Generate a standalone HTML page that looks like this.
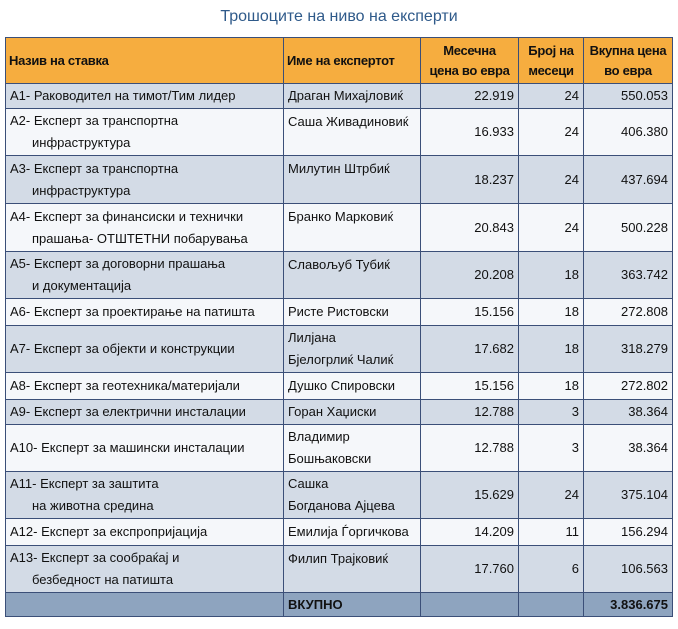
<!DOCTYPE html>
<html><head><meta charset="utf-8"><style>
body{margin:0;background:#fff;width:678px;height:629px;overflow:hidden;font-family:"Liberation Sans Narrow","Liberation Sans",sans-serif;}
.t{position:absolute;top:8px;left:0;width:678px;text-align:center;color:#2f5a8a;font-size:16px;}
table{position:absolute;left:5px;top:37px;width:667px;border-collapse:collapse;table-layout:fixed;font-size:13px;color:#111;line-height:22px;}
td{border:1.5px solid #3b4f78;padding:0 4px;vertical-align:middle;white-space:nowrap;}
th{border:1.5px solid #3b4f78;background:#f6ad3f;font-weight:bold;font-size:13px;padding:0 3px;line-height:20px;white-space:nowrap;letter-spacing:-0.3px;}
.o td{background:#d3dbe6}.e td{background:#f5f7fa}
.n{text-align:right}
.d td:first-child div:nth-child(2){padding-left:22px}
.tp{vertical-align:top;padding-top:2px}
.tot td{background:#8ea4bf;font-weight:bold}
</style></head><body>
<div class="t">Трошоците на ниво на експерти</div>
<table>
<colgroup><col style="width:278px"><col style="width:137px"><col style="width:98px"><col style="width:65px"><col style="width:89px"></colgroup>
<tr style="height:46px"><th style="text-align:left">Назив на ставка</th><th style="text-align:left">Име на експертот</th><th>Месечна<br>цена во евра</th><th>Број на<br>месеци</th><th>Вкупна цена<br>во евра</th></tr>
<tr class="o" style="height:25px"><td>A1- Раководител на тимот/Тим лидер</td><td>Драган Михајловиќ</td><td class="n">22.919</td><td class="n">24</td><td class="n">550.053</td></tr>
<tr class="e d" style="height:47px"><td><div>A2- Експерт за транспортна</div><div>инфраструктура</div></td><td class="tp">Саша Живадиновиќ</td><td class="n">16.933</td><td class="n">24</td><td class="n">406.380</td></tr>
<tr class="o d" style="height:48px"><td><div>A3- Експерт за транспортна</div><div>инфраструктура</div></td><td class="tp">Милутин Штрбиќ</td><td class="n">18.237</td><td class="n">24</td><td class="n">437.694</td></tr>
<tr class="e d" style="height:48px"><td><div>A4- Експерт за финансиски и технички</div><div>прашања- ОТШТЕТНИ побарувања</div></td><td class="tp">Бранко Марковиќ</td><td class="n">20.843</td><td class="n">24</td><td class="n">500.228</td></tr>
<tr class="o d" style="height:47px"><td><div>A5- Експерт за договорни прашања</div><div>и документација</div></td><td class="tp">Славољуб Тубиќ</td><td class="n">20.208</td><td class="n">18</td><td class="n">363.742</td></tr>
<tr class="e" style="height:27px"><td>A6- Експерт за проектирање на патишта</td><td>Ристе Ристовски</td><td class="n">15.156</td><td class="n">18</td><td class="n">272.808</td></tr>
<tr class="o" style="height:47px"><td>A7- Експерт за објекти и конструкции</td><td>Лилјана<br>Бјелогрлиќ Чалиќ</td><td class="n">17.682</td><td class="n">18</td><td class="n">318.279</td></tr>
<tr class="e" style="height:27px"><td>A8- Експерт за геотехника/материјали</td><td>Душко Спировски</td><td class="n">15.156</td><td class="n">18</td><td class="n">272.802</td></tr>
<tr class="o" style="height:25px"><td>A9- Експерт за електрични инсталации</td><td>Горан Хаџиски</td><td class="n">12.788</td><td class="n">3</td><td class="n">38.364</td></tr>
<tr class="e" style="height:47px"><td>A10- Експерт за машински инсталации</td><td>Владимир<br>Бошњаковски</td><td class="n">12.788</td><td class="n">3</td><td class="n">38.364</td></tr>
<tr class="o d" style="height:47px"><td><div>A11- Експерт за заштита</div><div>на животна средина</div></td><td>Сашка<br>Богданова Ајцева</td><td class="n">15.629</td><td class="n">24</td><td class="n">375.104</td></tr>
<tr class="e" style="height:27px"><td>A12- Експерт за експропријација</td><td>Емилија Ѓоргичкова</td><td class="n">14.209</td><td class="n">11</td><td class="n">156.294</td></tr>
<tr class="o d" style="height:47px"><td><div>A13- Експерт за сообраќај и</div><div>безбедност на патишта</div></td><td class="tp">Филип Трајковиќ</td><td class="n">17.760</td><td class="n">6</td><td class="n">106.563</td></tr>
<tr class="tot" style="height:24px"><td></td><td>ВКУПНО</td><td></td><td></td><td class="n">3.836.675</td></tr>
</table>
</body></html>
